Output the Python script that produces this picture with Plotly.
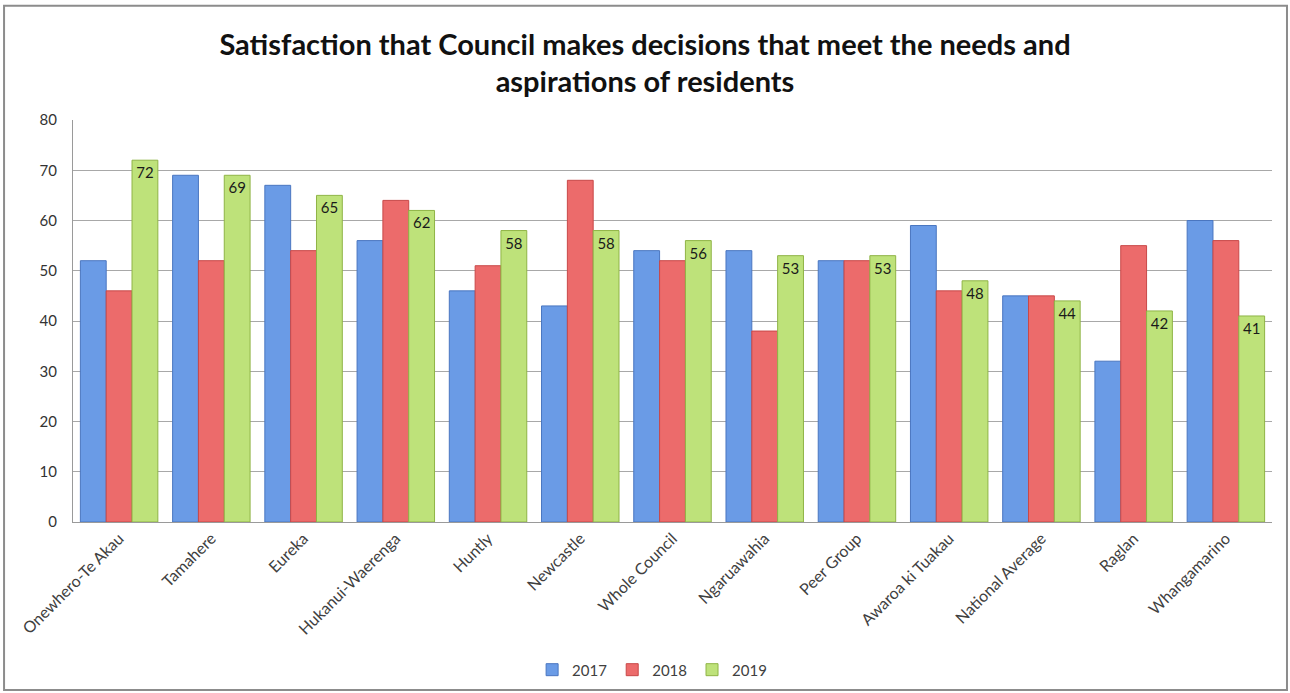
import plotly.graph_objects as go

categories = ["Onewhero-Te Akau", "Tamahere", "Eureka", "Hukanui-Waerenga", "Huntly",
              "Newcastle", "Whole Council", "Ngaruawahia", "Peer Group", "Awaroa ki Tuakau",
              "National Average", "Raglan", "Whangamarino"]
years = ["2017", "2018", "2019"]
values_2017 = [52, 69, 67, 56, 46, 43, 54, 54, 52, 59, 45, 32, 60]
values_2018 = [46, 52, 54, 64, 51, 68, 52, 38, 52, 46, 45, 55, 56]
values_2019 = [72, 69, 65, 62, 58, 58, 56, 53, 53, 48, 44, 42, 41]
y_ticks = [0, 10, 20, 30, 40, 50, 60, 70, 80]

series = [values_2017, values_2018, values_2019]
fills = ["#6A9BE6", "#EC6B6B", "#BEE27A"]
edges = ["#4A76C0", "#C84848", "#8FB446"]

FONT = "Lato, 'Open Sans', sans-serif"

fig = go.Figure()
for name, vals, fill, edge in zip(years, series, fills, edges):
    show_text = name == "2019"
    fig.add_trace(go.Bar(
        name=name,
        x=categories,
        y=vals,
        marker=dict(color=fill, line=dict(color=edge, width=1)),
        text=[str(v) for v in vals] if show_text else None,
        textposition="inside" if show_text else "none",
        insidetextanchor="end",
        textangle=0,
        textfont=dict(family=FONT, size=15, color="#1a1a1a"),
    ))

fig.update_layout(
    width=1290, height=693,
    barmode="group", bargap=0.16, bargroupgap=0.0,
    paper_bgcolor="white", plot_bgcolor="white",
    margin=dict(l=73, r=18, t=120, b=171, autoexpand=False),
    font=dict(family=FONT, color="#404040"),
    title=dict(
        text="<b>Satisfaction that Council makes decisions that meet the needs and<br>aspirations of residents</b>",
        x=0.5, xanchor="center", y=0.921, yanchor="middle",
        font=dict(family=FONT, size=29, color="#111111"),
    ),
    legend=dict(
        orientation="h", x=0.483, xanchor="center", y=-0.368, yanchor="middle",
        font=dict(family=FONT, size=15, color="#404040"),
        itemwidth=30, traceorder="normal",
    ),
    xaxis=dict(
        tickangle=-45, tickfont=dict(family=FONT, size=16, color="#404040"),
        showline=True, linecolor="#9a9a9a", linewidth=1, ticks="",
        showgrid=False, automargin=False,
    ),
    yaxis=dict(
        range=[0, 80], tickvals=y_ticks, tickfont=dict(family=FONT, size=15, color="#333333"),
        showgrid=True, gridcolor="#a8a8a8", gridwidth=1,
        showline=True, linecolor="#9a9a9a", linewidth=1,
        ticks="outside", ticklen=12, tickcolor="rgba(0,0,0,0)", zeroline=False,
        automargin=False,
    ),
    shapes=[dict(
        type="rect", xref="paper", yref="paper",
        x0=-0.0575, x1=1.0125, y0=-0.418, y1=1.284,
        line=dict(color="#8c8c8c", width=2), fillcolor="rgba(0,0,0,0)", layer="below",
    )],
)

fig.write_html("out.html")
